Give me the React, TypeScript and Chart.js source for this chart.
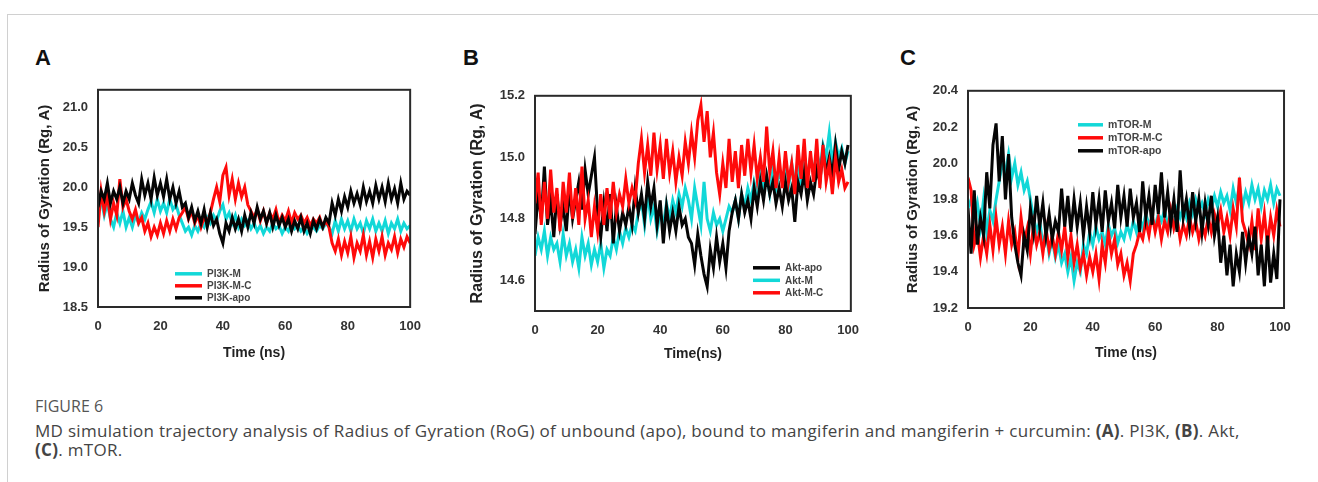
import React, { useEffect, useRef } from 'react';
import { Chart, registerables } from 'chart.js';

Chart.register(...registerables);

// ---------- data ----------
// sampling grid (ns)
const TIME_NS: number[] = Array.from({ length: 101 }, (_, i) => i);

// Panel A: PI3K
const PI3K_APO = [
  19.75, 19.95, 19.85, 20.05, 19.8, 19.95, 19.85, 20.0, 19.8, 19.95,
  19.85, 20.05, 19.9, 19.8, 20.1, 19.9, 20.05, 19.85, 20.12, 19.9,
  20.05, 19.88, 20.1, 19.85, 20.0, 19.8, 19.95, 19.75, 19.8, 19.62,
  19.75, 19.58, 19.7, 19.55, 19.72, 19.5, 19.68, 19.52, 19.6, 19.42,
  19.3, 19.55, 19.45, 19.62, 19.48, 19.6, 19.45, 19.65, 19.5, 19.68,
  19.55, 19.75, 19.6, 19.7, 19.55, 19.68, 19.5, 19.65, 19.52, 19.62,
  19.5, 19.6, 19.45, 19.58, 19.48, 19.62, 19.45, 19.55, 19.42, 19.58,
  19.48, 19.6, 19.5, 19.62, 19.55, 19.8, 19.65, 19.85, 19.7, 19.88,
  19.75, 19.95, 19.8, 19.92, 19.78, 20.0, 19.82, 19.95, 19.8, 20.02,
  19.85, 20.0, 19.82, 20.05, 19.85, 19.98, 19.8, 20.05, 19.85, 19.95, 19.9,
];
const PI3K_M = [
  19.7, 19.85, 19.65, 19.8, 19.6, 19.5, 19.68, 19.55, 19.7, 19.5,
  19.62, 19.5, 19.65, 19.55, 19.68, 19.6, 19.72, 19.82, 19.68, 19.85,
  19.7, 19.8, 19.68, 19.85, 19.72, 19.78, 19.65, 19.55, 19.45, 19.5,
  19.4, 19.52, 19.45, 19.55, 19.5, 19.62, 19.55, 19.65, 19.58, 19.7,
  19.78, 19.6, 19.68, 19.55, 19.65, 19.5, 19.6, 19.52, 19.58, 19.48,
  19.55, 19.45, 19.52, 19.42, 19.5, 19.45, 19.55, 19.48, 19.52, 19.42,
  19.5, 19.45, 19.55, 19.48, 19.52, 19.45, 19.5, 19.42, 19.48, 19.5,
  19.45, 19.52, 19.48, 19.55, 19.5, 19.42, 19.58, 19.45, 19.6, 19.48,
  19.58, 19.45, 19.6, 19.48, 19.55, 19.42, 19.58, 19.48, 19.6, 19.45,
  19.55, 19.45, 19.58, 19.42, 19.55, 19.48, 19.6, 19.45, 19.55, 19.48, 19.52,
];
const PI3K_MC = [
  19.5, 19.95, 19.7, 19.9, 19.6, 19.8, 19.65, 20.1, 19.75, 19.85,
  19.7, 19.6, 19.72, 19.55, 19.62, 19.45, 19.55, 19.38, 19.5, 19.4,
  19.55, 19.42, 19.58, 19.45, 19.6, 19.48, 19.62, 19.68, 19.75, 19.6,
  19.7, 19.55, 19.65, 19.5, 19.62, 19.55, 19.68, 19.85, 20.0, 19.82,
  20.15, 20.25, 19.9, 20.1, 19.85, 20.05, 19.88, 20.0, 19.78, 19.7,
  19.62, 19.72, 19.58, 19.7, 19.55, 19.68, 19.6, 19.72, 19.55, 19.65,
  19.58, 19.7, 19.55, 19.68, 19.6, 19.65, 19.55, 19.62, 19.52, 19.6,
  19.55, 19.62, 19.5, 19.58, 19.5, 19.3, 19.2, 19.35, 19.15, 19.32,
  19.18, 19.38, 19.12, 19.3, 19.2, 19.4, 19.15, 19.32, 19.12, 19.35,
  19.2, 19.38, 19.15, 19.3, 19.22, 19.38, 19.18, 19.35, 19.25, 19.38, 19.3,
];

// Panel B: Akt
const AKT_APO = [
  14.75, 14.88, 14.8, 14.97, 14.78, 14.86, 14.74, 14.88, 14.78, 14.84,
  14.76, 14.9, 14.8, 14.86, 14.92, 14.83, 14.96, 14.88, 14.94, 15.0,
  14.82, 14.74, 14.85, 14.76, 14.88, 14.72, 14.84, 14.76, 14.82, 14.78,
  14.84, 14.78, 14.9, 14.82, 14.88, 14.8, 14.92, 14.84, 14.9, 14.78,
  14.86, 14.72, 14.84, 14.76, 14.82, 14.76, 14.84, 14.78, 14.8, 14.74,
  14.72, 14.65, 14.75, 14.68, 14.62, 14.58, 14.7, 14.64, 14.74, 14.66,
  14.72, 14.64, 14.76, 14.82, 14.86, 14.8, 14.88, 14.82, 14.86, 14.8,
  14.9, 14.84, 14.92, 14.86, 14.94, 14.88, 14.92, 14.85, 14.9, 14.84,
  14.92, 14.86, 14.9, 14.79, 14.92, 14.88, 14.95, 14.86, 14.92, 14.88,
  14.96, 14.92, 15.02, 14.95, 15.0, 14.94, 15.04, 14.96, 15.02, 14.98, 15.04,
];
const AKT_M = [
  14.68, 14.74, 14.7, 14.76, 14.68, 14.74, 14.7, 14.72, 14.66, 14.75,
  14.68, 14.72, 14.66, 14.7, 14.64, 14.74, 14.68, 14.72, 14.65, 14.7,
  14.66, 14.72, 14.64, 14.7, 14.68, 14.74, 14.7, 14.76, 14.72, 14.77,
  14.74, 14.78, 14.76, 14.82, 14.86, 14.78, 14.88, 14.8, 14.84, 14.76,
  14.82, 14.78, 14.85, 14.8, 14.86, 14.82, 14.88, 14.84, 14.9, 14.86,
  14.8, 14.9, 14.84, 14.78, 14.92, 14.8, 14.76, 14.82, 14.78, 14.8,
  14.76, 14.8, 14.84, 14.82, 14.86, 14.8, 14.88, 14.84, 14.9, 14.86,
  14.92, 14.88, 14.95, 14.9, 14.94, 14.88, 14.96, 14.9, 14.95, 14.92,
  14.96, 14.9, 14.98, 14.92, 14.96, 14.9, 14.98, 14.94, 15.0, 14.95,
  15.02, 14.96, 15.04, 15.0, 15.08, 14.98, 15.05, 15.0, 15.03, 14.98, 15.02,
];
const AKT_MC = [
  14.85, 14.95, 14.78, 14.92, 14.8, 14.96, 14.82, 14.9, 14.76, 14.92,
  14.82, 14.95, 14.8, 14.9, 14.78, 14.97, 14.8, 14.86, 14.74, 14.84,
  14.76, 14.88, 14.78, 14.9, 14.8, 14.92, 14.82, 14.88, 14.84, 14.93,
  14.85, 14.9, 14.86, 14.98, 15.06, 14.95, 15.04, 14.94, 15.08, 14.96,
  15.04, 14.93, 15.06, 14.95, 15.02, 14.92, 15.0, 14.94, 15.05, 14.98,
  15.08, 15.0, 15.12, 15.17, 15.05, 15.15, 15.0, 15.08, 14.95, 14.88,
  14.98, 14.9, 15.06, 14.92, 15.02, 14.9, 15.04, 14.94, 15.06, 14.95,
  15.04, 14.93, 15.0, 14.92, 15.1, 14.95, 15.02, 14.9, 15.0, 14.9,
  15.02, 14.92, 14.98, 14.88, 15.04, 14.93, 15.06, 14.9, 15.02, 14.92,
  15.06, 14.9, 15.04, 14.92, 14.98, 14.88, 15.0, 14.92, 14.96, 14.9, 14.92,
];

// Panel C: mTOR
const MTOR_APO = [
  19.75, 19.5, 19.85, 19.55, 19.7, 19.6, 19.95, 19.75, 20.1, 20.22,
  19.9, 20.15, 19.8, 20.05, 19.7, 19.55, 19.45, 19.38, 19.6, 19.52, 19.75,
  19.62, 19.82, 19.65, 19.78, 19.6, 19.72, 19.58, 19.68, 19.62, 19.86,
  19.65, 19.82, 19.62, 19.8, 19.65, 19.78, 19.6, 19.76, 19.62, 19.84,
  19.66, 19.8, 19.62, 19.85, 19.68, 19.78, 19.64, 19.88, 19.7, 19.82,
  19.65, 19.86, 19.7, 19.78, 19.62, 19.9, 19.7, 19.82, 19.66, 19.88,
  19.72, 19.95, 19.7, 19.84, 19.66, 19.8, 19.62, 19.96, 19.7, 19.8,
  19.65, 19.84, 19.68, 19.8, 19.62, 19.78, 19.66, 19.82, 19.6, 19.7,
  19.45, 19.6, 19.38, 19.55, 19.32, 19.5, 19.4, 19.62, 19.45, 19.6,
  19.5, 19.65, 19.38, 19.55, 19.32, 19.6, 19.34, 19.5, 19.36, 19.8,
];
const MTOR_M = [
  19.75, 19.8, 19.7, 19.78, 19.65, 19.8, 19.62, 19.74, 19.68, 19.8,
  19.9, 20.0, 19.95, 20.05, 19.92, 20.0, 19.88, 19.95, 19.85, 19.9,
  19.8, 19.7, 19.62, 19.68, 19.55, 19.62, 19.5, 19.58, 19.48, 19.55,
  19.45, 19.5, 19.4, 19.48, 19.35, 19.45, 19.4, 19.55, 19.5, 19.62,
  19.55, 19.65, 19.58, 19.62, 19.55, 19.66, 19.6, 19.64, 19.56, 19.62,
  19.58, 19.66, 19.6, 19.68, 19.62, 19.7, 19.64, 19.72, 19.66, 19.7,
  19.65, 19.72, 19.68, 19.74, 19.66, 19.72, 19.68, 19.75, 19.7, 19.76,
  19.7, 19.78, 19.72, 19.8, 19.74, 19.78, 19.72, 19.8, 19.75, 19.82,
  19.76, 19.84, 19.78, 19.82, 19.74, 19.86, 19.78, 19.88, 19.76, 19.84,
  19.78, 19.88, 19.8, 19.86, 19.76, 19.85, 19.8, 19.88, 19.78, 19.86, 19.82,
];
const MTOR_MC = [
  19.92, 19.85, 19.55, 19.62, 19.48, 19.6, 19.5, 19.66, 19.52, 19.7,
  19.55, 19.65, 19.5, 19.68, 19.55, 19.62, 19.48, 19.7, 19.56, 19.64,
  19.5, 19.66, 19.55, 19.62, 19.5, 19.64, 19.52, 19.6, 19.5, 19.62,
  19.52, 19.65, 19.48, 19.6, 19.45, 19.55, 19.42, 19.5, 19.38, 19.48,
  19.4, 19.5, 19.36, 19.55, 19.45, 19.62, 19.5, 19.58, 19.44, 19.5,
  19.38, 19.45, 19.35, 19.5, 19.55, 19.62, 19.58, 19.68, 19.6, 19.72,
  19.62, 19.7, 19.58, 19.68, 19.62, 19.74, 19.64, 19.7, 19.58, 19.66,
  19.6, 19.7, 19.62, 19.68, 19.58, 19.66, 19.6, 19.7, 19.62, 19.72,
  19.66, 19.74, 19.62, 19.7, 19.6, 19.75, 19.65, 19.92, 19.68, 19.62,
  19.55, 19.68, 19.52, 19.75, 19.58, 19.72, 19.55, 19.7, 19.6, 19.74, 19.65,
];

// tick labels
const X_TICKS = [0, 20, 40, 60, 80, 100];
const Y_TICKS_A = [18.5, 19.0, 19.5, 20.0, 20.5, 21.0];
const Y_TICKS_B = [14.6, 14.8, 15.0, 15.2];
const Y_TICKS_C = [19.2, 19.4, 19.6, 19.8, 20.0, 20.2, 20.4];

const CYAN = '#12d8d8';
const RED = '#ff0a0a';
const BLACK = '#050505';
const FONT = "'Liberation Sans', Arial, sans-serif";

// ---------- plugins ----------
const frameBox = {
  id: 'frameBox',
  afterDatasetsDraw(chart: any) {
    const { ctx, chartArea: a } = chart;
    ctx.save();
    ctx.strokeStyle = '#2a2a2a';
    ctx.lineWidth = 2;
    ctx.strokeRect(a.left, a.top, a.right - a.left, a.bottom - a.top);
    ctx.restore();
  },
};

const insideLegend = {
  id: 'insideLegend',
  afterDraw(chart: any, _args: any, opts: any) {
    if (!opts || !opts.items) return;
    const { ctx, chartArea: a } = chart;
    ctx.save();
    opts.items.forEach((it: any, i: number) => {
      const y = a.top + opts.dy + i * opts.step;
      const x = a.left + opts.dx;
      ctx.strokeStyle = it.color;
      ctx.lineWidth = 3.5;
      ctx.beginPath();
      ctx.moveTo(x, y);
      ctx.lineTo(x + opts.len, y);
      ctx.stroke();
      ctx.fillStyle = '#444';
      ctx.font = `bold ${opts.size}px ${FONT}`;
      ctx.textBaseline = 'middle';
      ctx.textAlign = 'left';
      ctx.fillText(it.label, x + opts.len + 5, y + 0.5);
    });
    ctx.restore();
  },
};

type PanelCfg = {
  left: number; top: number; width: number; height: number;
  yW: number; xH: number;
  yMin: number; yMax: number; xMax: number;
  yTicks: number[]; yTitleSize: number; xTitle: string;
  series: { label: string; data: number[]; color: string; order: number }[];
  legend: any;
};

function Panel({ cfg }: { cfg: PanelCfg }) {
  const ref = useRef<HTMLCanvasElement>(null);
  useEffect(() => {
    const chart = new Chart(ref.current as HTMLCanvasElement, {
      type: 'line',
      data: {
        datasets: cfg.series.map((s) => ({
          label: s.label,
          data: s.data.map((v, i) => ({ x: TIME_NS[i], y: v })),
          borderColor: s.color,
          backgroundColor: s.color,
          borderWidth: 3,
          pointRadius: 0,
          tension: 0,
          order: s.order,
        })),
      },
      options: {
        animation: false,
        responsive: false,
        devicePixelRatio: 1,
        parsing: false,
        normalized: true,
        layout: { padding: { top: 10, right: 14, left: 0, bottom: 0 } },
        plugins: {
          legend: { display: false },
          tooltip: { enabled: false },
          insideLegend: cfg.legend,
        } as any,
        scales: {
          x: {
            type: 'linear',
            min: 0,
            max: cfg.xMax,
            afterFit: (s: any) => { s.height = cfg.xH; },
            afterBuildTicks: (s: any) => { s.ticks = X_TICKS.map((v) => ({ value: v })); },
            grid: { display: false, drawTicks: false },
            border: { display: false },
            ticks: {
              padding: 12, color: '#333', autoSkip: false, maxRotation: 0,
              font: { size: 13, weight: 'bold', family: FONT },
            },
            title: {
              display: true, text: cfg.xTitle, color: '#222', padding: 0,
              font: { size: 14, weight: 'bold', family: FONT },
            },
          },
          y: {
            type: 'linear',
            min: cfg.yMin,
            max: cfg.yMax,
            afterFit: (s: any) => { s.width = cfg.yW; },
            afterBuildTicks: (s: any) => { s.ticks = cfg.yTicks.map((v) => ({ value: v })); },
            grid: { display: false, drawTicks: false },
            border: { display: false },
            ticks: {
              padding: 10, color: '#333',
              font: { size: 13, weight: 'bold', family: FONT },
              callback: (v: any) => Number(v).toFixed(1),
            },
            title: {
              display: true, text: 'Radius of Gyration (Rg, A)', color: '#222', padding: 0,
              font: { size: cfg.yTitleSize, weight: 'bold', family: FONT },
            },
          },
        },
      },
      plugins: [frameBox, insideLegend],
    } as any);
    return () => chart.destroy();
  }, []);
  return (
    <canvas
      ref={ref}
      width={cfg.width}
      height={cfg.height}
      style={{ position: 'absolute', left: cfg.left, top: cfg.top, width: cfg.width, height: cfg.height }}
    />
  );
}

const PANEL_A: PanelCfg = {
  left: 36, top: 72, width: 397, height: 290, yW: 62, xH: 55,
  yMin: 18.5, yMax: 21.22, xMax: 100, yTicks: Y_TICKS_A, yTitleSize: 15, xTitle: 'Time (ns)',
  series: [
    { label: 'PI3K-M', data: PI3K_M, color: CYAN, order: 2 },
    { label: 'PI3K-M-C', data: PI3K_MC, color: RED, order: 1 },
    { label: 'PI3K-apo', data: PI3K_APO, color: BLACK, order: 0 },
  ],
  legend: {
    dx: 77, dy: 184, step: 12, len: 27, size: 10,
    items: [
      { label: 'PI3K-M', color: CYAN },
      { label: 'PI3K-M-C', color: RED },
      { label: 'PI3K-apo', color: BLACK },
    ],
  },
};

const PANEL_B: PanelCfg = {
  left: 468, top: 78, width: 403, height: 285, yW: 67, xH: 52,
  yMin: 14.5, yMax: 15.2, xMax: 100.9, yTicks: Y_TICKS_B, yTitleSize: 16, xTitle: 'Time(ns)',
  series: [
    { label: 'Akt-apo', data: AKT_APO, color: BLACK, order: 1 },
    { label: 'Akt-M', data: AKT_M, color: CYAN, order: 2 },
    { label: 'Akt-M-C', data: AKT_MC, color: RED, order: 0 },
  ],
  legend: {
    dx: 218, dy: 172, step: 12.5, len: 27, size: 10,
    items: [
      { label: 'Akt-apo', color: BLACK },
      { label: 'Akt-M', color: CYAN },
      { label: 'Akt-M-C', color: RED },
    ],
  },
};

const PANEL_C: PanelCfg = {
  left: 904, top: 73, width: 399, height: 289, yW: 64, xH: 54,
  yMin: 19.2, yMax: 20.4, xMax: 101.3, yTicks: Y_TICKS_C, yTitleSize: 15, xTitle: 'Time (ns)',
  series: [
    { label: 'mTOR-M', data: MTOR_M, color: CYAN, order: 2 },
    { label: 'mTOR-M-C', data: MTOR_MC, color: RED, order: 1 },
    { label: 'mTOR-apo', data: MTOR_APO, color: BLACK, order: 0 },
  ],
  legend: {
    dx: 110, dy: 34, step: 13, len: 25, size: 10.5,
    items: [
      { label: 'mTOR-M', color: CYAN },
      { label: 'mTOR-M-C', color: RED },
      { label: 'mTOR-apo', color: BLACK },
    ],
  },
};

const letterStyle = (left: number): React.CSSProperties => ({
  position: 'absolute', left, top: 47, fontFamily: FONT, fontWeight: 'bold',
  fontSize: 22, lineHeight: '22px', color: '#111',
});

const CAPTION_FONT = "'Open Sans', sans-serif";

export default function App() {
  return (
    <div style={{ position: 'absolute', left: 0, top: 0, width: 1318, height: 482, background: '#fff', overflow: 'hidden' }}>
      <div style={{ position: 'absolute', left: 7, top: 14, width: 1311, height: 468, borderTop: '1px solid #d0d0d0', borderLeft: '1px solid #d0d0d0' }} />
      <div style={letterStyle(35)}>A</div>
      <div style={letterStyle(463)}>B</div>
      <div style={letterStyle(900)}>C</div>
      <Panel cfg={PANEL_A} />
      <Panel cfg={PANEL_B} />
      <Panel cfg={PANEL_C} />
      <div style={{ position: 'absolute', left: 35, top: 396, fontFamily: CAPTION_FONT, fontSize: 16, lineHeight: '20px', color: '#555', whiteSpace: 'nowrap' }}>
        FIGURE 6
      </div>
      <div style={{ position: 'absolute', left: 35, top: 421, fontFamily: CAPTION_FONT, fontSize: 17, letterSpacing: '0.3px', lineHeight: '19px', color: '#444', whiteSpace: 'nowrap' }}>
        MD simulation trajectory analysis of Radius of Gyration (RoG) of unbound (apo), bound to mangiferin and mangiferin + curcumin: <b>(A)</b>. PI3K, <b>(B)</b>. Akt,
        <br />
        <b>(C)</b>. mTOR.
      </div>
    </div>
  );
}
